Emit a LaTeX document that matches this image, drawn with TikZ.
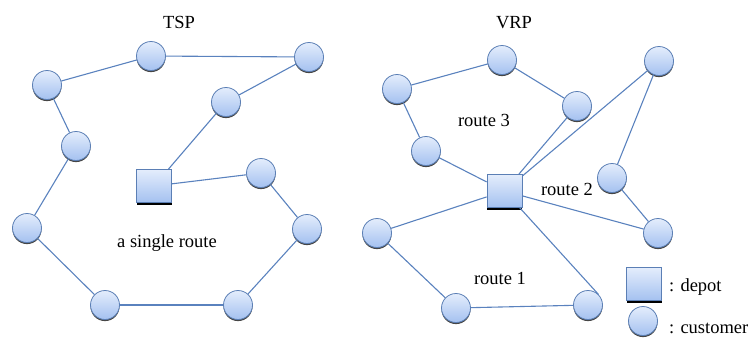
\documentclass[tikz,border=0pt]{standalone}
\usepackage{fontspec}
\setmainfont{Liberation Serif}
\usetikzlibrary{shadows}
\definecolor{edgec}{HTML}{5A82BE}
\definecolor{nodeborder}{HTML}{5B7FB5}
\definecolor{topc}{HTML}{E4EDFC}
\definecolor{botc}{HTML}{A4C1F0}
\tikzset{
 cust/.style={circle, draw=nodeborder, line width=0.8pt, top color=topc, bottom color=botc,
   minimum size=29pt, inner sep=0pt,
   drop shadow={shadow xshift=0pt, shadow yshift=-1.6pt, fill=black!85, opacity=0.85}},
 depotbox/.style={rectangle, draw=nodeborder, line width=0.8pt, top color=topc, bottom color=botc,
   minimum width=35pt, minimum height=33pt, inner sep=0pt,
   drop shadow={shadow xshift=0pt, shadow yshift=-2.2pt, fill=black, opacity=1}},
 link/.style={draw=edgec, line width=1.1pt},
 lbl/.style={font=\fontsize{18.5}{22}\selectfont, inner sep=0pt}
}
\begin{document}
\begin{tikzpicture}[x=1pt,y=-1pt]
\useasboundingbox (0,0) rectangle (752,338);
% TSP
\node[lbl] (tsp) at (179,22) {TSP};
\node[cust] (t1) at (47,85) {};
\node[cust] (t2) at (151,56) {};
\node[cust] (t3) at (309,57) {};
\node[cust] (t4) at (226,102) {};
\node[cust] (t5) at (76,146) {};
\node[cust] (t6) at (261,173) {};
\node[depotbox] (td) at (154,186) {};
\node[cust] (t7) at (27,228) {};
\node[cust] (t8) at (307,229) {};
\node[cust] (t9) at (105,305) {};
\node[cust] (t10) at (238,305) {};
\node[lbl] (tr) at (167,243) {a single route};
\draw[link] (t1) -- (t2);
\draw[link] (t2) -- (t3);
\draw[link] (t3) -- (t4);
\draw[link] (t4) -- (td);
\draw[link] (td) -- (t6);
\draw[link] (t6) -- (t8);
\draw[link] (t8) -- (t10);
\draw[link] (t10) -- (t9);
\draw[link] (t9) -- (t7);
\draw[link] (t7) -- (t5);
\draw[link] (t5) -- (t1);
% VRP
\node[lbl] (vrp) at (514,23) {VRP};
\node[cust] (v1) at (397,89) {};
\node[cust] (v2) at (502,60) {};
\node[cust] (v3) at (577,106) {};
\node[cust] (v4) at (659,61) {};
\node[cust] (v5) at (426,151) {};
\node[depotbox] (vd) at (504.5,191) {};
\node[cust] (v6) at (612,178) {};
\node[cust] (v7) at (377,233) {};
\node[cust] (v8) at (658,233) {};
\node[cust] (v9) at (456,308) {};
\node[cust] (v10) at (588,305) {};
\node[lbl] (r3) at (484,120) {route 3};
\node[lbl] (r2) at (567,189) {route 2};
\node[lbl] (r1) at (500,278) {route 1};
\draw[link] (v1) -- (v2);
\draw[link] (v2) -- (v3);
\draw[link] (v3) -- (vd);
\draw[link] (v1) -- (v5);
\draw[link] (v5) -- (vd);
\draw[link] (vd) -- (v4);
\draw[link] (v4) -- (v6);
\draw[link] (v6) -- (v8);
\draw[link] (v8) -- (vd);
\draw[link] (vd) -- (v7);
\draw[link] (v7) -- (v9);
\draw[link] (v9) -- (v10);
\draw[link] (v10.north east) -- (vd);
% legend
\node[depotbox] (ld) at (644,284) {};
\node[lbl, anchor=west] (ldt) at (669,287) {: depot};
\node[cust] (lc) at (643,321) {};
\node[lbl, anchor=west] (lct) at (669,328) {: customer};
\end{tikzpicture}
\end{document}
